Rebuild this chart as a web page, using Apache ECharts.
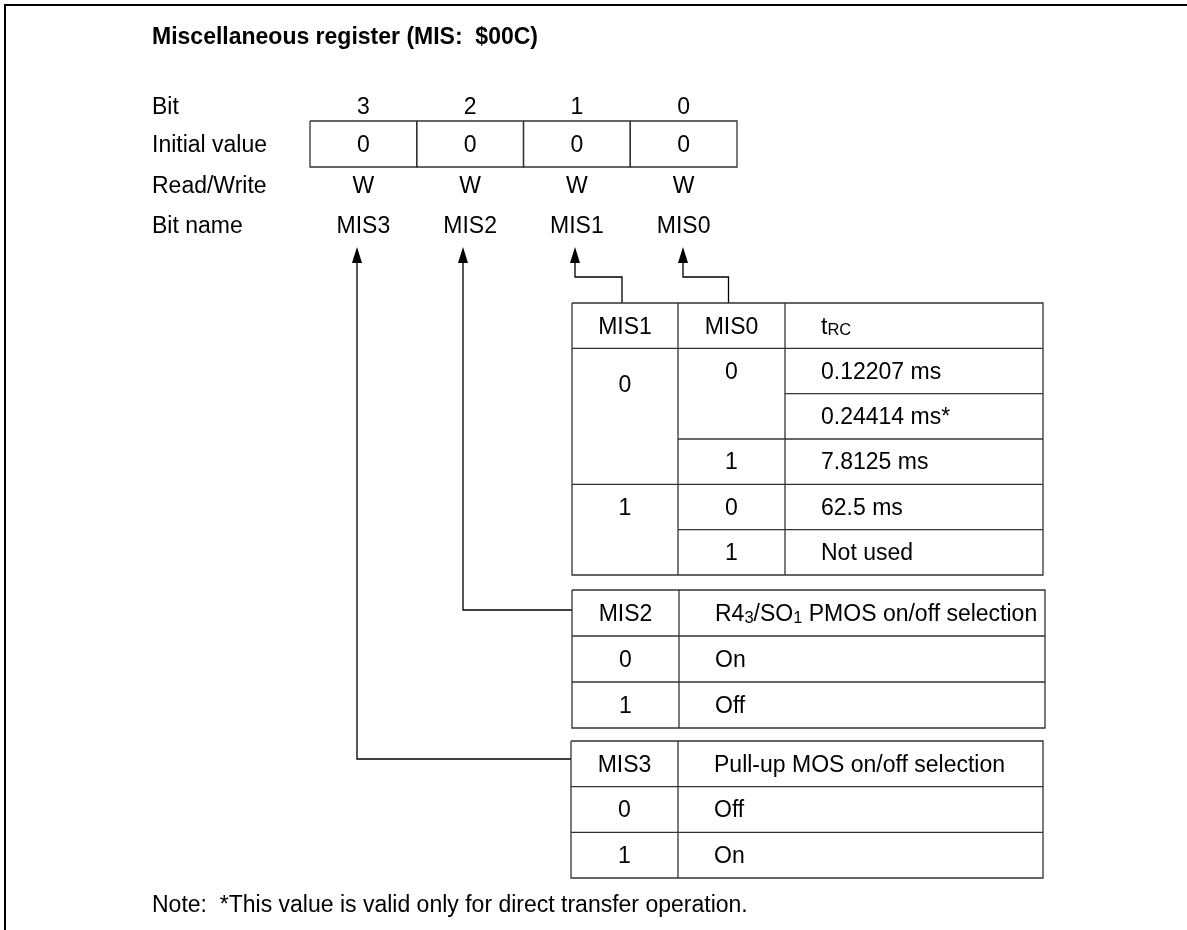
<!DOCTYPE html>
<html>
<head>
<meta charset="utf-8">
<script src="https://cdn.jsdelivr.net/npm/echarts@6/dist/echarts.min.js"></script>
<style>
  html, body { margin: 0; padding: 0; background: #fff; }
  #main { width: 1187px; height: 930px; }
</style>
</head>
<body>
<div id="main"></div>
<script>
// register description
const titleText = 'Miscellaneous register (MIS:  $00C)';
const noteText = 'Note:  *This value is valid only for direct transfer operation.';
const rowLabels = ['Bit', 'Initial value', 'Read/Write', 'Bit name'];
const bitNumbers = ['3', '2', '1', '0'];
const initialValues = ['0', '0', '0', '0'];
const readWrite = ['W', 'W', 'W', 'W'];
const bitNames = ['MIS3', 'MIS2', 'MIS1', 'MIS0'];

// tRC table (MIS1 / MIS0 cells are merged over several rows)
const trcHeader = ['MIS1', 'MIS0', 't{sub|RC}'];
const trcMis1 = ['0', '1'];
const trcMis1Rows = [3, 2];
const trcMis0 = ['0', '1', '0', '1'];
const trcMis0Rows = [2, 1, 1, 1];
const trcValues = ['0.12207 ms', '0.24414 ms*', '7.8125 ms', '62.5 ms', 'Not used'];

// MIS2 / MIS3 tables
const mis2Header = ['MIS2', 'R4{sub|3}/SO{sub|1} PMOS on/off selection'];
const mis2Values = ['0', '1'];
const mis2Text = ['On', 'Off'];
const mis3Header = ['MIS3', 'Pull-up MOS on/off selection'];
const mis3Values = ['0', '1'];
const mis3Text = ['Off', 'On'];

// page layout (pixel units of the hidden axes)
const W = 1187, H = 930;
const L = {
  frame: 5,
  labelX: 152,
  titleY: 36,
  noteY: 904,
  rowY: [106, 144, 185, 225],
  regLeft: 310, regRight: 737, regTop: 121, regBottom: 167,
  arrowX: [357, 463, 575, 683], arrowTip: 247, arrowBase: 263, arrowHalf: 5,
  elbowY: 277
};
const TB = {
  trc:  { cols: [572, 678, 785, 1043], top: 303, rowH: 45.33, textX: 821 },
  mis2: { cols: [572, 679, 1045], top: 590, rowH: 46, textX: 715 },
  mis3: { cols: [571, 678, 1043], top: 741, rowH: 45.67, textX: 714 }
};

const FONT = '"Liberation Sans", Arial, Helvetica, sans-serif';
const FS = 23;
const INK = '#000';
const GRID = '#333';
const RICH = {
  sub: { fontSize: 16.5, lineHeight: 7, verticalAlign: 'bottom', fontFamily: FONT, fill: INK }
};

function txt(api, x, y, text, align, bold) {
  const p = api.coord([x, y + 1.5]);
  return {
    type: 'text',
    style: {
      x: p[0], y: p[1], text: text,
      align: align || 'center', verticalAlign: 'middle',
      fontFamily: FONT, fontSize: FS, fontWeight: bold ? 'bold' : 'normal',
      lineHeight: 24, fill: INK, rich: RICH
    }
  };
}

function line(api, pts, color, w) {
  return {
    type: 'polyline',
    shape: { points: pts.map(q => api.coord(q)) },
    style: { stroke: color || INK, lineWidth: w || 1.3, fill: null }
  };
}

function spansOf(values, rows) {
  let from = 0;
  return values.map((v, k) => {
    const s = { v: v, from: from, span: rows ? rows[k] : 1 };
    from += s.span;
    return s;
  });
}

function renderTable(api, t, header, columns, aligns) {
  const kids = [];
  const nBody = columns[0].reduce((a, s) => a + s.span, 0);
  const bodyTop = t.top + t.rowH;
  const bottom = bodyTop + nBody * t.rowH;
  const left = t.cols[0], right = t.cols[t.cols.length - 1];
  kids.push(line(api, [[left, t.top], [right, t.top], [right, bottom], [left, bottom], [left, t.top]], GRID));
  for (let c = 1; c < t.cols.length - 1; c++) {
    kids.push(line(api, [[t.cols[c], t.top], [t.cols[c], bottom]], GRID));
  }
  kids.push(line(api, [[left, bodyTop], [right, bodyTop]], GRID));
  header.forEach((h, c) => {
    const x = aligns[c] === 'left' ? t.textX : (t.cols[c] + t.cols[c + 1]) / 2;
    kids.push(txt(api, x, t.top + t.rowH / 2, h, aligns[c]));
  });
  columns.forEach((col, c) => {
    const x = aligns[c] === 'left' ? t.textX : (t.cols[c] + t.cols[c + 1]) / 2;
    col.forEach(s => {
      if (s.from > 0) {
        const y = bodyTop + s.from * t.rowH;
        kids.push(line(api, [[t.cols[c], y], [t.cols[c + 1], y]], GRID));
      }
      const ty = bodyTop + (s.from + (s.span > 2 ? 0.8 : 0.5)) * t.rowH;
      kids.push(txt(api, x, ty, s.v, aligns[c]));
    });
  });
  return { type: 'group', children: kids };
}

// where each bit's connector ends
function linkPath(i) {
  const x = L.arrowX[i];
  if (i === 0) { const y = TB.mis3.top + 18; return [[x, L.arrowBase], [x, y], [TB.mis3.cols[0], y]]; }
  if (i === 1) { const y = TB.mis2.top + 20; return [[x, L.arrowBase], [x, y], [TB.mis2.cols[0], y]]; }
  const t = TB.trc, c = i - 2;
  const tx = (t.cols[c] + t.cols[c + 1]) / 2 - 3;
  return [[x, L.arrowBase], [x, L.elbowY], [tx, L.elbowY], [tx, t.top]];
}

const chart = echarts.init(document.getElementById('main'));
const colW = (L.regRight - L.regLeft) / bitNames.length;

const option = {
  animation: false,
  grid: { left: 0, right: 0, top: 0, bottom: 0 },
  xAxis: { type: 'value', min: 0, max: W, show: false },
  yAxis: { type: 'value', min: 0, max: H, inverse: true, show: false },
  series: [
    {
      name: 'frame', type: 'custom', silent: true, clip: false,
      data: [[0, 0]],
      renderItem: function (params, api) {
        return {
          type: 'group',
          children: [
            line(api, [[L.frame, H], [L.frame, L.frame], [W, L.frame]], INK, 2),
            txt(api, L.labelX, L.titleY, titleText, 'left', true),
            txt(api, L.labelX, L.noteY, noteText, 'left')
          ]
        };
      }
    },
    {
      name: 'labels', type: 'custom', silent: true, clip: false,
      data: rowLabels.map((_, i) => [i, 0]),
      renderItem: function (params, api) {
        const i = api.value(0);
        return txt(api, L.labelX, L.rowY[i], rowLabels[i], 'left');
      }
    },
    {
      name: 'register', type: 'custom', silent: true, clip: false,
      data: bitNames.map((_, i) => [i, 0]),
      renderItem: function (params, api) {
        const i = api.value(0);
        const x0 = L.regLeft + i * colW, x1 = x0 + colW, cx = x0 + colW / 2;
        return {
          type: 'group',
          children: [
            line(api, [[x0, L.regTop], [x1, L.regTop], [x1, L.regBottom], [x0, L.regBottom], [x0, L.regTop]], GRID),
            txt(api, cx, L.rowY[0], bitNumbers[i]),
            txt(api, cx, L.rowY[1], initialValues[i]),
            txt(api, cx, L.rowY[2], readWrite[i]),
            txt(api, cx, L.rowY[3], bitNames[i])
          ]
        };
      }
    },
    {
      name: 'links', type: 'custom', silent: true, clip: false,
      data: bitNames.map((_, i) => [i, 0]),
      renderItem: function (params, api) {
        const i = api.value(0);
        const x = L.arrowX[i];
        const tri = [[x, L.arrowTip], [x - L.arrowHalf, L.arrowBase], [x + L.arrowHalf, L.arrowBase]].map(q => api.coord(q));
        return {
          type: 'group',
          children: [
            { type: 'polygon', shape: { points: tri }, style: { fill: INK } },
            line(api, linkPath(i), INK)
          ]
        };
      }
    },
    {
      name: 'tRC', type: 'custom', silent: true, clip: false,
      data: [[0, 0]],
      renderItem: function (params, api) {
        return renderTable(api, TB.trc, trcHeader,
          [spansOf(trcMis1, trcMis1Rows), spansOf(trcMis0, trcMis0Rows), spansOf(trcValues)],
          ['center', 'center', 'left']);
      }
    },
    {
      name: 'MIS2', type: 'custom', silent: true, clip: false,
      data: [[0, 0]],
      renderItem: function (params, api) {
        return renderTable(api, TB.mis2, mis2Header,
          [spansOf(mis2Values), spansOf(mis2Text)], ['center', 'left']);
      }
    },
    {
      name: 'MIS3', type: 'custom', silent: true, clip: false,
      data: [[0, 0]],
      renderItem: function (params, api) {
        return renderTable(api, TB.mis3, mis3Header,
          [spansOf(mis3Values), spansOf(mis3Text)], ['center', 'left']);
      }
    }
  ]
};

chart.setOption(option);
</script>
</body>
</html>
